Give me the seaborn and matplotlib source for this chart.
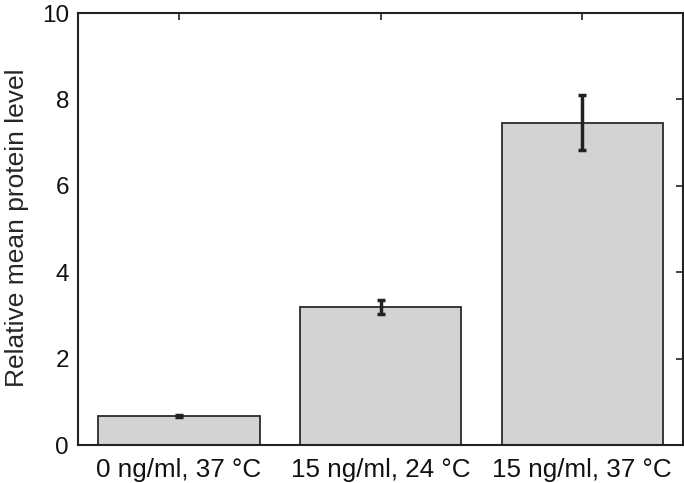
import matplotlib
matplotlib.use("Agg")
import matplotlib.pyplot as plt
import seaborn as sns
import pandas as pd

categories = ["0 ng/ml, 37 °C", "15 ng/ml, 24 °C", "15 ng/ml, 37 °C"]
means = [0.67, 3.19, 7.46]
errors = [0.03, 0.16, 0.64]
yticks = [0, 2, 4, 6, 8, 10]

sns.set_style("white")
plt.rcParams['font.family'] = ['Liberation Sans', 'DejaVu Sans']

df = pd.DataFrame({"cond": categories, "level": means})

fig = plt.figure(figsize=(6.84, 4.83), dpi=100)
ax = fig.add_axes([78/684, 1-445/483, (683-78)/684, (445-13)/483])
sns.barplot(data=df, x="cond", y="level", order=categories, color="#d3d3d3",
            saturation=1, width=0.8, edgecolor="#2a2a2a", linewidth=1.3,
            errorbar=None, ax=ax)
ax.errorbar(range(len(categories)), means, yerr=errors, fmt="none",
            ecolor="#222222", elinewidth=2.5, capsize=3, capthick=2.5, zorder=5)

ax.set_xlim(-0.5, 2.5)
ax.set_ylim(0, 10)
ax.set_yticks(yticks)
ax.set_yticklabels([str(t) for t in yticks])
ax.set_xlabel("")
ax.set_ylabel("Relative mean protein level", fontsize=19)
ax.yaxis.set_label_coords(-0.081, 0.503)
ax.tick_params(axis="both", direction="in", length=5, width=1.2, color="#222222",
               top=True, right=True, labelcolor="#111111")
ax.tick_params(axis="x", labelsize=18.7, pad=9)
ax.tick_params(axis="y", labelsize=17.5, pad=6.5)
for s in ax.spines.values():
    s.set_visible(True)
    s.set_color("#222222")
    s.set_linewidth(1.5)

fig.savefig("out.png", dpi=100)
